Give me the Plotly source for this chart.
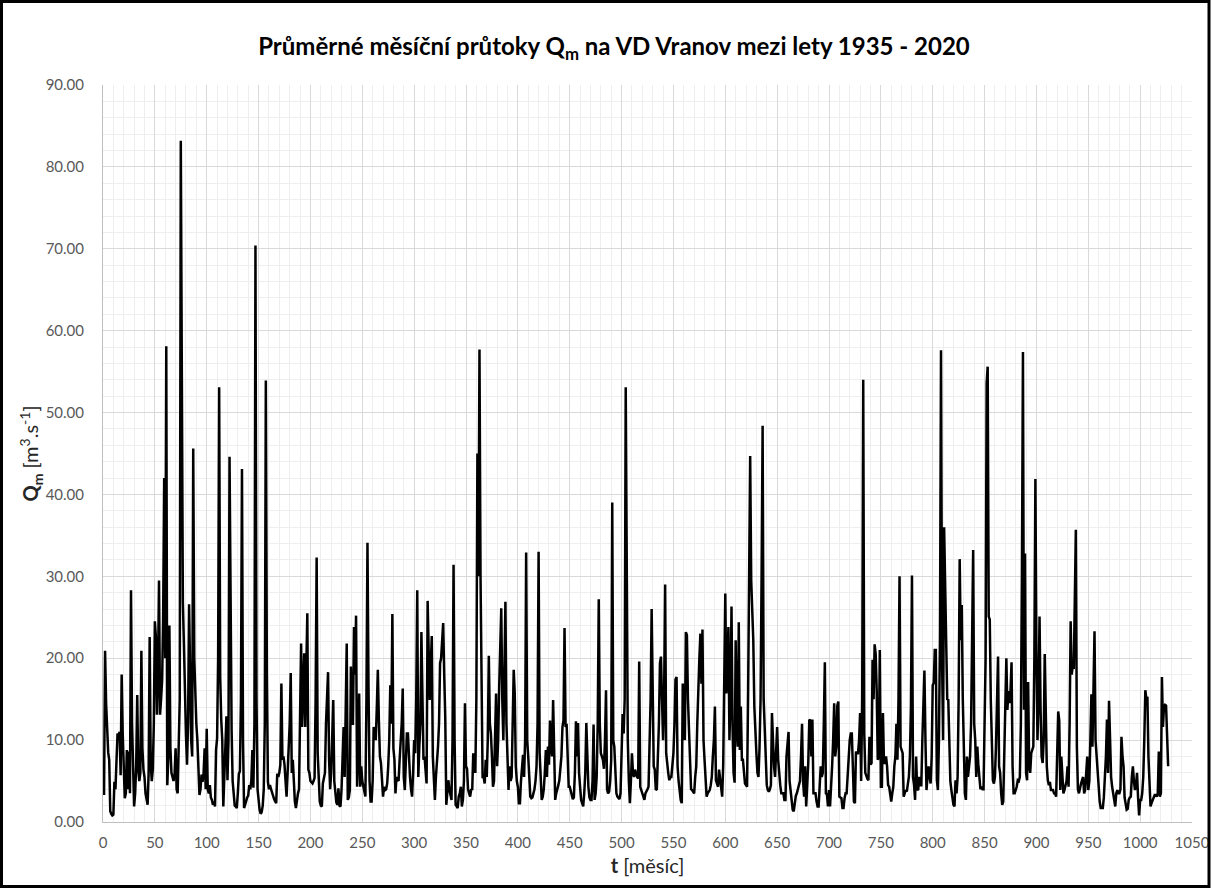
import plotly.graph_objects as go

# Monthly mean discharge Q_m [m3/s] (t = 1 ... 1027)
q_part1 = [
    3.3, 20.9, 14.5, 10.4, 8.5, 7.6, 1.3, 1.0, 0.8, 0.9, 4.9, 4.0,
    6.5, 10.8, 10.5, 11.0, 5.7, 18.0, 10.8, 5.5, 2.9, 3.5, 8.8, 4.0,
    8.6, 3.5, 28.3, 12.0, 7.6, 1.9, 3.5, 6.8, 15.5, 6.4, 5.0, 6.0,
    20.9, 9.0, 6.4, 5.5, 3.5, 2.5, 2.1, 6.0, 22.6, 7.2, 5.0, 6.4,
    12.0, 24.5, 22.6, 13.1, 18.0, 29.5, 13.1, 15.0, 17.3, 25.0, 42.0, 20.0,
    58.1, 4.5, 8.0, 24.0, 9.0, 6.0, 5.5, 5.0, 5.8, 9.0, 4.0, 3.5,
    9.4, 15.0, 83.2, 40.0, 26.8, 21.8, 15.0, 10.6, 7.0, 12.0, 26.6, 14.9,
    10.0, 8.0, 45.6, 20.0, 14.9, 12.0, 10.0, 5.0, 3.3, 4.0, 5.8, 4.9,
    6.0, 9.0, 4.0, 11.4, 4.0, 3.5, 4.5, 3.0, 2.7, 2.1, 2.5, 1.9,
    8.8, 10.2, 20.0, 53.1, 17.7, 12.5, 10.0, 1.9, 6.0, 9.0, 12.9, 5.1,
    10.0, 44.6, 20.0, 11.2, 5.0, 3.5, 2.0, 1.9, 1.7, 3.5, 5.9, 6.2,
    15.0, 43.1, 10.0, 1.7, 2.0, 2.5, 3.0, 3.2, 4.5, 4.0, 5.0, 8.8,
    4.2, 12.0, 70.4, 15.0, 4.0, 2.4, 1.5, 1.0, 1.2, 2.0, 4.0, 12.0,
    53.9, 18.0, 4.9, 4.0, 4.5, 4.0, 3.5, 3.0, 2.8, 2.5, 2.3, 5.9,
]
q_part2 = [
    5.5, 6.0, 7.0, 16.9, 7.6, 8.0, 7.0, 5.0, 3.1, 6.0, 9.0, 12.0,
    18.2, 6.0, 7.6, 5.0, 2.5, 1.7, 2.9, 3.5, 4.0, 12.0, 21.8, 11.6,
    15.0, 20.6, 11.6, 18.0, 25.5, 6.4, 6.0, 5.0, 4.9, 4.7, 5.0, 5.4,
    15.0, 32.3, 8.4, 4.0, 2.5, 2.0, 1.9, 4.7, 5.5, 6.0, 12.0, 16.0,
    18.3, 7.6, 4.0, 6.0, 10.0, 14.9, 5.0, 3.0, 2.4, 2.1, 4.1, 2.0,
    1.9, 4.0, 8.6, 11.6, 5.5, 15.0, 21.8, 2.7, 3.0, 3.9, 19.0, 12.0,
    12.0, 23.8, 18.0, 25.2, 4.3, 8.0, 15.7, 4.3, 6.8, 5.0, 4.3, 3.5,
    3.1, 15.0, 34.1, 16.5, 5.0, 2.5, 2.5, 5.0, 11.6, 10.8, 10.0, 14.0,
    18.6, 12.4, 8.0, 7.2, 4.0, 3.1, 4.3, 3.9, 4.0, 4.7, 6.8, 10.0,
    16.7, 12.0, 25.4, 9.0, 7.6, 3.5, 5.5, 5.1, 5.0, 7.6, 10.0, 12.0,
    16.3, 5.5, 3.9, 8.0, 10.8, 10.8, 7.0, 5.5, 4.0, 3.1, 6.0, 10.0,
    8.4, 15.0, 28.3, 5.5, 9.2, 12.0, 23.2, 11.6, 7.6, 8.0, 6.0, 4.7,
    27.0, 19.0, 14.9, 19.0, 22.7, 8.0, 5.0, 2.7, 5.5, 7.0, 9.2, 12.0,
    19.4, 20.0, 21.8, 24.3, 18.0, 12.8, 2.1, 4.0, 5.1, 4.0, 3.5, 2.7,
    10.0, 31.4, 10.0, 2.1, 1.9, 1.7, 3.1, 3.5, 4.3, 1.9, 2.7, 5.0,
]
q_part3 = [
    14.5, 6.8, 6.5, 4.0, 3.5, 3.1, 4.0, 3.9, 8.4, 6.8, 6.0, 15.0,
    45.0, 30.0, 57.7, 30.0, 12.0, 5.5, 5.5, 4.7, 7.6, 5.5, 10.0, 20.3,
    12.0, 10.8, 8.0, 4.3, 5.0, 11.6, 15.7, 6.8, 10.0, 16.5, 21.0, 26.1,
    14.9, 10.0, 18.0, 26.9, 12.0, 7.2, 3.9, 6.8, 5.0, 5.5, 12.0, 18.6,
    15.7, 6.8, 5.0, 4.3, 2.3, 2.3, 5.0, 6.8, 8.2, 5.5, 10.0, 32.9,
    10.0, 8.0, 5.5, 3.1, 2.9, 3.0, 3.5, 4.0, 5.0, 6.8, 12.0, 33.0,
    8.4, 4.0, 2.7, 3.1, 4.0, 6.0, 8.8, 5.5, 9.2, 7.0, 12.4, 9.2,
    8.0, 14.9, 6.0, 2.7, 3.5, 3.9, 4.5, 5.1, 6.8, 8.0, 11.6, 12.4,
    23.7, 11.6, 12.0, 9.0, 4.3, 4.3, 3.9, 3.5, 2.8, 3.0, 6.0, 12.3,
    8.0, 12.1, 6.0, 4.3, 2.7, 2.3, 1.9, 3.5, 6.0, 12.1, 6.0, 4.3,
    3.0, 2.7, 2.7, 5.0, 11.9, 2.7, 3.5, 5.5, 12.0, 27.2, 12.0, 8.4,
    8.0, 7.6, 6.5, 10.0, 16.1, 4.0, 3.5, 3.7, 5.0, 7.6, 39.0, 10.0,
    9.2, 6.0, 3.5, 3.1, 2.9, 2.8, 3.5, 8.0, 13.2, 10.8, 15.0, 53.1,
    20.0, 10.0, 5.0, 2.3, 5.0, 8.4, 6.0, 5.5, 6.4, 5.7, 5.5, 5.3,
]
q_part4 = [
    19.6, 4.3, 3.9, 3.5, 3.0, 2.7, 3.5, 3.9, 4.0, 4.3, 8.4, 15.0,
    26.0, 12.0, 6.8, 6.4, 3.9, 4.0, 7.6, 12.0, 19.4, 20.2, 15.0, 10.0,
    15.0, 29.0, 8.4, 6.8, 6.0, 5.1, 5.5, 5.5, 7.0, 8.4, 12.0, 17.4,
    17.7, 6.8, 5.0, 3.5, 2.7, 2.3, 16.9, 13.6, 10.0, 23.2, 22.8, 15.0,
    10.4, 6.0, 4.0, 3.9, 3.7, 3.5, 5.5, 6.8, 12.0, 16.9, 20.0, 23.0,
    16.9, 23.5, 10.0, 7.6, 5.0, 3.1, 3.5, 3.7, 3.9, 4.5, 5.5, 8.0,
    10.0, 14.1, 5.1, 4.7, 4.3, 6.4, 5.5, 4.0, 3.1, 7.0, 15.0, 27.9,
    15.7, 18.0, 23.8, 10.0, 15.0, 26.3, 11.6, 6.0, 4.8, 22.2, 12.0, 9.2,
    24.4, 8.8, 14.1, 7.6, 7.6, 5.5, 4.7, 4.5, 4.3, 15.7, 30.0, 44.7,
    29.5, 25.0, 22.2, 14.1, 10.0, 8.4, 6.0, 5.5, 9.0, 14.9, 30.0, 48.4,
    15.0, 10.8, 7.2, 4.5, 3.9, 3.7, 4.0, 4.5, 13.3, 9.2, 6.8, 5.5,
    8.0, 11.6, 7.6, 5.5, 4.5, 3.5, 3.5, 3.5, 2.7, 2.7, 8.0, 10.0,
    11.0, 5.0, 3.5, 2.3, 1.5, 1.3, 2.7, 3.2, 3.5, 4.0, 4.7, 5.0,
    8.0, 12.0, 5.0, 3.1, 6.8, 1.9, 4.5, 7.2, 12.4, 12.5, 8.0, 12.5,
    3.5, 3.5, 3.5, 2.5, 1.9, 1.9, 4.3, 6.8, 5.5, 6.0, 12.0, 19.5,
]
q_part5 = [
    3.5, 3.4, 1.9, 3.9, 1.9, 3.9, 6.8, 10.0, 14.5, 8.0, 9.2, 14.2,
    14.7, 3.1, 3.0, 2.9, 1.7, 1.7, 2.9, 3.5, 3.5, 6.0, 6.8, 10.0,
    10.8, 10.8, 6.8, 2.5, 2.3, 8.6, 8.4, 8.4, 10.0, 13.3, 5.0, 15.0,
    54.0, 10.8, 6.0, 5.5, 5.3, 5.1, 10.4, 7.0, 7.2, 19.8, 15.0, 21.7,
    20.5, 16.0, 7.6, 8.0, 21.0, 4.3, 4.3, 13.3, 7.2, 7.2, 8.0, 6.8,
    4.5, 4.3, 3.5, 2.5, 3.5, 4.3, 6.8, 8.0, 12.0, 7.6, 15.0, 30.0,
    9.2, 8.8, 8.4, 3.1, 3.5, 3.9, 3.7, 4.5, 5.5, 8.0, 14.0, 30.1,
    5.5, 4.5, 2.7, 8.0, 4.0, 3.9, 5.5, 4.5, 4.5, 10.0, 14.9, 18.5,
    10.0, 3.9, 5.5, 6.8, 5.5, 4.7, 8.0, 16.7, 17.0, 21.0, 21.0, 5.1,
    3.9, 10.0, 22.5, 57.6, 20.0, 10.0, 36.0, 28.7, 24.7, 15.0, 14.9, 7.2,
    5.0, 3.9, 2.5, 2.1, 1.9, 5.1, 3.5, 5.5, 15.0, 32.1, 22.2, 26.5,
    15.0, 10.0, 3.5, 2.7, 8.0, 5.5, 6.8, 8.0, 12.0, 20.0, 33.2, 12.0,
    10.0, 5.5, 9.2, 7.0, 4.7, 4.0, 4.3, 4.0, 4.0, 11.6, 20.0, 53.6,
    55.6, 25.1, 24.7, 14.9, 8.0, 5.1, 4.7, 5.5, 9.2, 15.0, 20.2, 6.8,
]
q_part6 = [
    6.0, 3.5, 2.1, 2.5, 10.0, 15.0, 20.0, 13.7, 16.0, 14.5, 16.0, 19.5,
    6.8, 3.5, 3.5, 3.9, 4.3, 5.1, 5.0, 5.5, 12.0, 30.0, 57.4, 13.7,
    32.8, 6.0, 5.1, 17.1, 6.8, 6.0, 8.4, 8.8, 9.2, 20.0, 41.9, 20.6,
    10.0, 15.0, 25.1, 13.7, 8.0, 7.2, 10.0, 20.5, 11.0, 6.8, 5.1, 4.5,
    4.9, 3.9, 3.9, 3.9, 3.5, 3.5, 3.1, 8.0, 13.5, 12.4, 3.9, 8.0,
    6.0, 3.5, 3.9, 4.3, 5.0, 6.8, 4.3, 12.0, 24.5, 18.0, 19.0, 18.7,
    25.0, 35.7, 9.2, 4.0, 3.5, 4.3, 4.7, 5.1, 5.5, 3.5, 3.9, 6.0,
    8.0, 3.9, 5.0, 10.0, 15.6, 9.2, 15.0, 23.3, 10.0, 8.0, 6.0, 4.3,
    2.5, 1.7, 1.7, 1.7, 3.0, 5.5, 8.0, 12.5, 6.0, 14.8, 9.2, 5.5,
    4.3, 3.5, 2.5, 1.9, 3.5, 3.9, 3.5, 3.5, 4.0, 10.4, 8.0, 6.8,
    3.0, 1.9, 1.5, 1.6, 2.7, 3.0, 3.1, 5.5, 6.8, 5.0, 3.9, 4.5,
    6.0, 3.0, 0.8, 2.7, 2.7, 3.5, 5.5, 10.0, 16.1, 15.0, 15.3, 8.0,
    4.7, 1.9, 2.3, 2.7, 3.1, 3.3, 3.3, 3.1, 3.5, 8.6, 3.1, 3.5,
    17.7, 11.6, 14.1, 14.3, 14.2, 10.0, 6.8,
]

flows = q_part1 + q_part2 + q_part3 + q_part4 + q_part5 + q_part6
months = list(range(1, len(flows) + 1))

title_text = "<b>Průměrné měsíční průtoky Q<sub>m</sub> na VD Vranov mezi lety 1935 - 2020</b>"
y_title = "<b>Q<sub>m</sub></b> [m<sup>3</sup>.s<sup>-1</sup>]"
x_title = "<b>t</b> [měsíc]"

W, H = 1211, 888
L, R, T, B = 103, 19, 85, 66
pw, ph = W - L - R, H - T - B

fig = go.Figure(
    go.Scatter(x=months, y=flows, mode="lines",
               line=dict(color="black", width=2.5), hoverinfo="x+y")
)

tick_font = dict(family="Lato", size=15, color="#595959")
axis_title_font = dict(family="Lato", size=20, color="#262626")

fig.update_layout(
    width=W, height=H, autosize=False,
    margin=dict(l=L, r=R, t=T, b=B, autoexpand=False),
    paper_bgcolor="white", plot_bgcolor="white",
    showlegend=False,
    title=dict(text=title_text, x=(614 - L) / pw, xanchor="center", xref="paper",
               y=1 - 47 / H, yanchor="middle", yref="container",
               font=dict(family="Lato", size=24, color="black")),
    xaxis=dict(range=[0, 1050], tick0=0, dtick=50, showgrid=True, automargin=False,
               gridcolor="#d9d9d9", gridwidth=1,
               minor=dict(dtick=10, showgrid=True, gridcolor="#eeeeee", gridwidth=1),
               showline=True, linecolor="#bfbfbf", linewidth=1,
               zeroline=False, ticks="", tickfont=tick_font,
               ticklabelstandoff=7, ticklabeloverflow="allow",
               title=dict(text=x_title, font=axis_title_font, standoff=8)),
    yaxis=dict(range=[0, 90], tick0=0, dtick=10, tickformat=".2f", showgrid=True,
               automargin=False,
               gridcolor="#d9d9d9", gridwidth=1,
               minor=dict(dtick=2, showgrid=True, gridcolor="#eeeeee", gridwidth=1),
               showline=True, linecolor="#bfbfbf", linewidth=1,
               zeroline=False, ticks="", tickfont=tick_font,
               ticklabelstandoff=15,
               title=dict(text=y_title, font=axis_title_font, standoff=0)),
    shapes=[dict(type="rect", xref="paper", yref="paper",
                 x0=(1.5 - L) / pw, x1=(W - 2.0 - L) / pw,
                 y0=(1.5 - B) / ph, y1=(H - B - 1.5) / ph,
                 line=dict(color="black", width=3), fillcolor="rgba(0,0,0,0)")],
)

post = (
    "document.documentElement.style.overflow='hidden';"
    "document.body.style.margin='0px';document.body.style.overflow='hidden';"
    "var gd=document.getElementById('{plot_id}');"
    "gd.style.width='1211px';gd.style.height='888px';"
    "Plotly.relayout(gd,{width:1211,height:888});"
)

fig.write_html("out.html",
               config={"displayModeBar": False, "responsive": False},
               post_script=post)
